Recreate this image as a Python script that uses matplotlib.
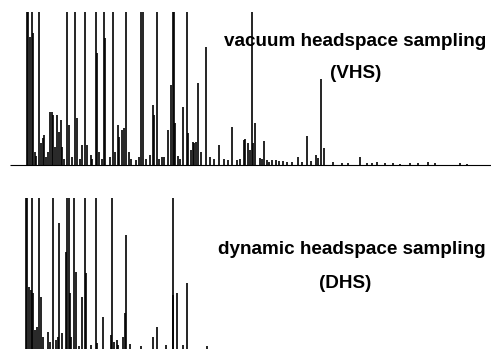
import matplotlib
matplotlib.use("Agg")
import matplotlib.pyplot as plt

# retention time (min) and relative height (%), >100 = off scale
vhs_rt = [2.09, 2.25, 2.5, 2.71, 2.91, 3.09, 3.25, 3.66, 3.88, 4.09, 4.25, 4.46, 4.71,
          5.0, 5.25, 5.41, 5.63, 5.88, 6.09, 6.34, 6.54, 6.75, 7.09, 7.41, 7.75, 8.09,
          8.38, 8.75, 9.0, 9.41, 9.59, 10.09, 10.25, 10.71, 10.91, 11.13, 11.5, 11.75,
          11.91, 12.5, 12.84, 13.16, 13.46, 13.66, 13.96, 14.25, 14.46, 14.91, 15.13,
          15.75, 16.13, 16.41, 16.59, 17.0, 17.5, 17.84, 18.0, 18.34, 18.63, 18.96,
          19.25, 19.79, 20.09, 20.34, 20.5, 20.63, 21.0, 21.25, 21.66, 22.09, 22.29,
          22.63, 22.84, 23.0, 23.25, 23.54, 23.91, 24.5, 25.0, 25.5, 26.16, 26.75, 27.25,
          27.71, 28.34, 28.75, 29.25, 29.38, 29.79, 30.0, 30.21, 30.34, 30.63, 31.25,
          31.5, 31.79, 32.13, 32.41, 32.75, 33.21, 33.63, 34.16, 34.63, 35.25, 36.04,
          36.5, 37.09, 37.63, 38.25, 38.46, 38.88, 39.25, 40.41, 41.5, 42.3, 43.75,
          44.59, 45.21, 45.84, 46.88, 47.88, 48.75, 50.0, 51.04, 52.29, 53.13, 56.25, 57.09]
vhs_h = [130, 130, 83.7, 130, 86.3, 8.5, 6, 130, 14.4, 17.6, 19.6, 5, 8.5,
         34.6, 34.6, 32.7, 11.8, 32.7, 21.6, 29.4, 11.8, 4, 130, 26.1, 5, 130,
         30.7, 4, 13.1, 130, 13.1, 6.5, 4, 130, 73.2, 8.5, 4, 130,
         83.0, 5, 130, 8.5, 26.1, 18.3, 22.9, 24.2, 130, 8.5, 4,
         3.3, 5, 130, 130, 4, 6.5, 39.2, 32.7, 130, 4, 5.2,
         5, 22.9, 52.3, 130, 130, 27.5, 6, 4, 37.9, 130, 20.9,
         9.8, 15.0, 14.4, 15.0, 53.6, 8.5, 77.1, 5.2, 4, 13.1, 4, 3,
         24.8, 3.3, 4, 16.3, 17.0, 14.4, 9.8, 130, 14.4, 27.5, 4.6,
         4, 15.7, 3, 2.0, 3, 3.3, 2.5, 2.6, 2, 2, 5.2,
         2, 19.0, 2.5, 6.5, 4.6, 56.2, 11.1, 2.0, 1.5, 1.5, 5.2,
         1.3, 1.3, 2.0, 1.0, 1.0, 0.8, 1.2, 1.5, 2.2, 1.2, 1.3, 0.8]

dhs_rt = [2.0, 2.16, 2.34, 2.59, 2.71, 2.91, 3.09, 3.41, 3.66, 3.88, 4.09, 4.71, 5.0,
          5.41, 5.75, 6.04, 6.16, 6.54, 6.96, 7.13, 7.34, 7.5, 7.63, 8.04, 8.29, 8.66,
          9.04, 9.41, 9.5, 10.09, 10.71, 10.91, 11.66, 12.63, 12.79, 13.0, 13.34, 13.54,
          14.09, 14.38, 14.5, 15.0, 16.38, 17.84, 18.34, 19.5, 20.34, 20.41, 20.91,
          21.66, 22.09, 24.59]
dhs_h = [130, 130, 41.1, 39.1, 130, 37.1, 12.6, 14.6, 130, 34.4, 7.9, 11.3, 4.6,
         130, 6.0, 7.9, 83.4, 10.6, 64.2, 130, 130, 37.1, 7.9, 130, 51.0, 2.0,
         34.4, 130, 50.3, 2.6, 130, 4.0, 21.2, 9.3, 130, 4.6, 6.0, 2.6,
         7.9, 23.8, 75.5, 3.3, 2.0, 7.9, 14.6, 2.6, 130, 35.8, 37.1,
         2.6, 43.7, 2.0]

W, H = 491, 349
fig = plt.figure(figsize=(W / 100, H / 100), dpi=100)


def px_axes(top, bottom):
    return fig.add_axes([0, 1 - bottom / H, 1, (bottom - top) / H])


x0, x1 = -1.25, 60.125

ax1 = px_axes(12, 168)
ax1.vlines(vhs_rt, 0, vhs_h, color="black", lw=1.2)
ax1.hlines(0, 0, x1, color="black", lw=0.8)
ax1.set_xlim(x0, x1)
ax1.set_ylim(-1.96, 100)
ax1.axis("off")

ax2 = px_axes(198, 349)
ax2.vlines(dhs_rt, 0, dhs_h, color="black", lw=1.2)
ax2.set_xlim(x0, x1)
ax2.set_ylim(0, 100)
ax2.axis("off")

kw = dict(ha="center", va="center", fontsize=13.6, fontweight="bold",
          family=["Liberation Sans", "DejaVu Sans"])
fig.text(355 / W, 1 - 42 / H, "vacuum headspace sampling", **kw)
fig.text(356 / W, 1 - 74 / H, "(VHS)", **kw)
fig.text(352 / W, 1 - 250 / H, "dynamic headspace sampling", **kw)
fig.text(345 / W, 1 - 284 / H, "(DHS)", **kw)

fig.savefig("out.png", dpi=100)
